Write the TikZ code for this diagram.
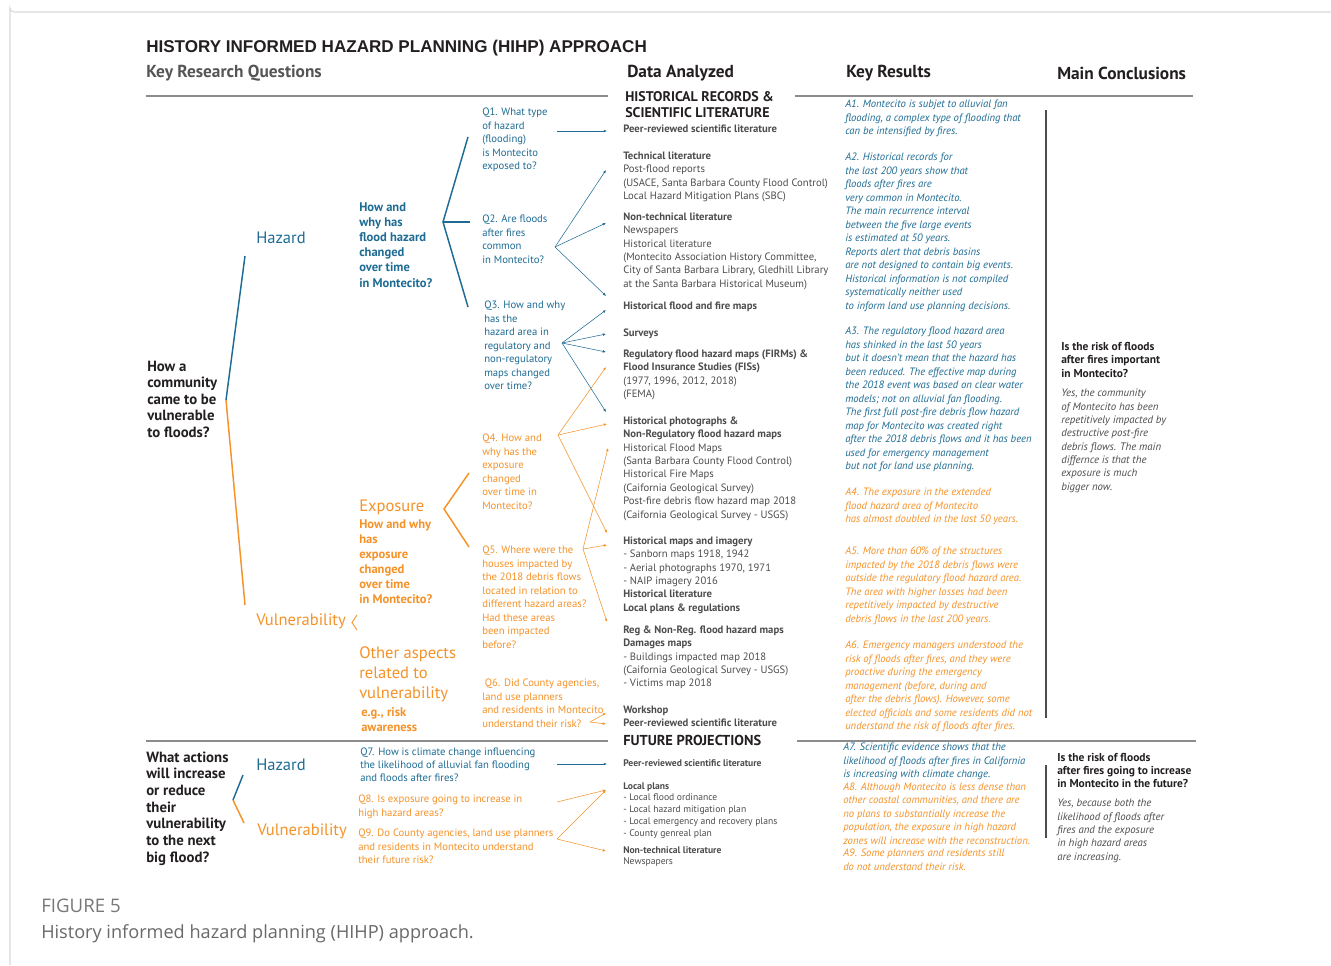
\documentclass[tikz,border=0pt]{standalone}
\usepackage{fontspec}
\setmainfont{PT Sans}
\newfontfamily\titlefont{Liberation Sans}
\newfontfamily\capfont{Open Sans}
\usetikzlibrary{arrows.meta}
\definecolor{HazClr}{RGB}{30,108,148}
\definecolor{VulClr}{RGB}{245,146,40}
\definecolor{TxtClr}{RGB}{35,31,32}
\definecolor{DatClr}{RGB}{77,77,77}
\definecolor{HeadClr}{RGB}{85,85,85}
\definecolor{RuleClr}{RGB}{140,140,140}
\definecolor{FrameClr}{RGB}{218,218,218}
\definecolor{CapClr}{RGB}{105,105,105}

\begin{document}
\begin{tikzpicture}[x=0.75pt,y=-0.75pt,
  txt/.style={anchor=north west,inner sep=0pt,align=left},
  dat/.style={txt,text=DatClr,font=\fontsize{8}{10.05}\selectfont},
  datsm/.style={txt,text=DatClr,font=\fontsize{7.2}{8.9}\selectfont},
  qhaz/.style={txt,text=HazClr,font=\fontsize{8}{10.1}\selectfont},
  qvul/.style={qhaz,text=VulClr},
  ahaz/.style={txt,text=HazClr,font=\fontsize{8}{10.1}\selectfont\itshape},
  avul/.style={ahaz,text=VulClr},
  conq/.style={txt,text=TxtClr,font=\fontsize{8.6}{10.1}\selectfont\bfseries},
  cona/.style={txt,text=DatClr,font=\fontsize{8.1}{10}\selectfont\itshape},
  colhead/.style={txt,text=TxtClr,font=\fontsize{13}{15}\selectfont\bfseries},
  bighaz/.style={txt,text=HazClr,font=\fontsize{12.4}{15}\selectfont},
  bigvul/.style={bighaz,text=VulClr},
  subhaz/.style={txt,text=HazClr,font=\fontsize{9.4}{11.4}\selectfont\bfseries},
  subvul/.style={subhaz,text=VulClr,font=\fontsize{9.4}{11.25}\selectfont\bfseries},
  rootq/.style={txt,text=TxtClr,font=\fontsize{11.1}{12.45}\selectfont\bfseries},
  HazLine/.style={draw=HazClr,line width=1.1pt},
  VulLine/.style={draw=VulClr,line width=1.1pt},
  HazArr/.style={draw=HazClr,line width=0.4pt,-{Latex[length=2.4pt,width=2pt]}},
  VulArr/.style={draw=VulClr,line width=0.4pt,-{Latex[length=2.4pt,width=2pt]}},
  RuleLine/.style={draw=RuleClr,line width=0.8pt},
  ColSep/.style={draw=TxtClr!80,line width=0.9pt}]

\fill[white] (0,0) rectangle (1331,965);
\useasboundingbox (0,0) rectangle (1331,965);
\draw[FrameClr,line width=0.8pt] (1331,12) -- (14,12) arc (90:180:4) -- (10,965);

% title and column heads
\node[txt,text=TxtClr,font=\titlefont\fontsize{12.8}{14}\selectfont\bfseries] (title) at (146,39.5) {HISTORY INFORMED HAZARD PLANNING (HIHP) APPROACH};
\node[colhead,text=HeadClr] (hQuest) at (146,65) {Key Research Questions};
\node[colhead] (hData) at (627,65) {Data Analyzed};
\node[colhead] (hRes) at (846,65) {Key Results};
\node[colhead] (hConc) at (1057,67) {Main Conclusions};

\draw[RuleLine] (146,96) -- (608,96);
\draw[RuleLine] (795,96) -- (1193,96);
\draw[RuleLine] (146,741) -- (608,741);
\draw[RuleLine] (797,741) -- (1196,741);
\draw[ColSep] (1046,110) -- (1046,718);
\draw[ColSep] (1046,765) -- (1046,838);

% research questions, past
\node[rootq] (rootPast) at (147,360.5) {How a\\community\\came to be\\vulnerable\\to floods?};
\node[bighaz] (hazPast) at (256,232) {Hazard};
\node[bigvul] (vulPast) at (256,614) {Vulnerability};
\node[subhaz] (hazWhy) at (359,202) {How and\\why has\\flood hazard\\changed\\over time\\in Montecito?};
\node[bigvul] (expo) at (359,500) {Exposure};
\node[subvul] (expoWhy) at (359,519) {How and why\\has\\exposure\\changed\\over time\\in Montecito?};
\node[bigvul] (other) at (359,646) {Other aspects\\related to\\vulnerability};
\node[subvul] (otherEg) at (361,707) {e.g., risk\\awareness};

\coordinate (rootTip) at (226,400);
\draw[HazLine] (245,256) -- (rootTip);
\draw[VulLine] (rootTip) -- (245,605);
\draw[HazLine] (468,137) -- (443,222) -- (468,307);
\draw[HazLine] (443,222) -- (470,222);
\draw[VulLine] (469,473) -- (444,509) -- (469,547);
\draw[VulClr,line width=0.7pt] (357,615) -- (352,622.5) -- (357,630);

\node[qhaz] (q1) at (482,108) {Q1. What type\\of hazard\\(flooding)\\is Montecito\\exposed to?};
\node[qhaz] (q2) at (482,215) {Q2. Are floods\\after fires\\common\\in Montecito?};
\node[qhaz] (q3) at (484,301) {Q3. How and why\\has the\\hazard area in\\regulatory and\\non-regulatory\\maps changed\\over time?};
\node[qvul] (q4) at (482,434) {Q4. How and\\why has the\\exposure\\changed\\over time in\\Montecito?};
\node[qvul] (q5) at (482,546) {Q5. Where were the\\houses impacted by\\the 2018 debris flows\\located in relation to\\different hazard areas?\\Had these areas\\been impacted\\before?};
\node[qvul] (q6) at (482,679) {\hspace{2pt}Q6. Did County agencies,\\land use planners\\and residents in Montecito\\understand their risk?};

% research questions, future
\node[rootq,font=\fontsize{11.1}{12.5}\selectfont\bfseries] (rootFut) at (146,751.5) {What actions\\will increase\\or reduce\\their\\vulnerability\\to the next\\big flood?};
\node[bighaz] (hazFut) at (256,759) {Hazard};
\node[bigvul] (vulFut) at (257,824) {Vulnerability};
\coordinate (futTip) at (233,800);
\draw[HazLine] (243,775) -- (futTip);
\draw[VulLine] (futTip) -- (244,823);
\node[qhaz,font=\fontsize{8}{9.75}\selectfont] (q7) at (360,748) {Q7. How is climate change influencing\\the likelihood of alluvial fan flooding\\and floods after fires?};
\node[qvul] (q8) at (358,795) {Q8. Is exposure going to increase in\\high hazard areas?};
\node[qvul] (q9) at (358,829) {Q9. Do County agencies, land use planners\\and residents in Montecito understand\\their future risk?};

% data analyzed
\node[txt,text=TxtClr,font=\fontsize{10.5}{12}\selectfont\bfseries] (dHist) at (625,91) {HISTORICAL RECORDS \&\\SCIENTIFIC LITERATURE};
\node[dat] (dPeer) at (623,124.5) {\textbf{Peer-reviewed scientific literature}};
\node[dat] (dTech) at (623,151.5) {\textbf{Technical literature}\\Post-flood reports\\(USACE, Santa Barbara County Flood Control)\\Local Hazard Mitigation Plans (SBC)};
\node[dat] (dNonTech) at (623,212.5) {\textbf{Non-technical literature}\\Newspapers\\Historical literature\\(Montecito Association History Committee,\\City of Santa Barbara Library, Gledhill Library\\at the Santa Barbara Historical Museum)};
\node[dat] (dMaps) at (623,301.5) {\textbf{Historical flood and fire maps}};
\node[dat] (dSurv) at (623,328.5) {\textbf{Surveys}};
\node[dat] (dReg) at (623,349.5) {\textbf{Regulatory flood hazard maps (FIRMs) \&}\\\textbf{Flood Insurance Studies (FISs)}\\(1977, 1996, 2012, 2018)\\(FEMA)};
\node[dat] (dPhoto) at (623,416.5) {\textbf{Historical photographs \&}\\\textbf{Non-Regulatory flood hazard maps}\\Historical Flood Maps\\(Santa Barbara County Flood Control)\\Historical Fire Maps\\(Caifornia Geological Survey)\\Post-fire debris flow hazard map 2018\\(Caifornia Geological Survey - USGS)};
\node[dat] (dImg) at (623,536.5) {\textbf{Historical maps and imagery}\\- Sanborn maps 1918, 1942\\- Aerial photographs 1970, 1971\\- NAIP imagery 2016\\\textbf{Historical literature}\\\textbf{Local plans \& regulations}};
\node[dat] (dDam) at (623,625.5) {\textbf{Reg \& Non-Reg. flood hazard maps}\\\textbf{Damages maps}\\- Buildings impacted map 2018\\(Caifornia Geological Survey - USGS)\\- Victims map 2018};
\node[dat] (dWork) at (623,705.5) {\textbf{Workshop}\\\textbf{Peer-reviewed scientific literature}};
\node[txt,text=TxtClr,font=\fontsize{10.8}{12}\selectfont\bfseries] (dFut) at (623,735) {FUTURE PROJECTIONS};
\node[datsm] (dFutPeer) at (623,759) {\textbf{Peer-reviewed scientific literature}};
\node[datsm] (dFutPlan) at (623,782) {\textbf{Local plans}\\- Local flood ordinance\\- Local hazard mitigation plan\\- Local emergency and recovery plans\\- County genreal plan};
\node[datsm] (dFutNews) at (623,846) {\textbf{Non-technical literature}\\Newspapers};

% arrow ends
\coordinate (Q1o) at (557,131);  \coordinate (tPeer) at (607,131);
\coordinate (Q2o) at (555,247);
\coordinate (tTech) at (606,170); \coordinate (tNonTech) at (606,223); \coordinate (tMaps) at (606,296);
\coordinate (Q3o) at (562,343);
\coordinate (tMapsB) at (606,310); \coordinate (tSurv) at (606,334); \coordinate (tReg) at (606,352); \coordinate (tPhoto) at (606,412);
\coordinate (Q4o) at (558,435);
\coordinate (tFIS) at (606,367); \coordinate (tPhotoB) at (607,424); \coordinate (tImg) at (607,533);
\coordinate (Q5o) at (583,549);
\coordinate (tFlood) at (608,448); \coordinate (tImgB) at (607,545); \coordinate (tDam) at (607,622);
\coordinate (Q6o) at (590,722);
\coordinate (tWork) at (606,713); \coordinate (tWorkB) at (606,724);
\coordinate (Q7o) at (557,764); \coordinate (tFutPeer) at (607,764);
\coordinate (Q8o) at (557,802); \coordinate (tPlan) at (606,790);
\coordinate (Q9o) at (557,839); \coordinate (tNews) at (606,851);

\draw[HazArr] (Q1o) -- (tPeer);
\foreach \t in {tTech,tNonTech,tMaps} \draw[HazArr] (Q2o) -- (\t);
\foreach \t in {tMapsB,tSurv,tReg,tPhoto} \draw[HazArr] (Q3o) -- (\t);
\foreach \t in {tFIS,tPhotoB,tImg} \draw[VulArr] (Q4o) -- (\t);
\foreach \t in {tFlood,tImgB,tDam} \draw[VulArr] (Q5o) -- (\t);
\foreach \t in {tWork,tWorkB} \draw[VulArr] (Q6o) -- (\t);
\draw[HazArr] (Q7o) -- (tFutPeer);
\draw[VulArr] (Q8o) -- (tPlan);
\foreach \t in {tPlan,tNews} \draw[VulArr] (Q9o) -- (\t);

% key results
\node[ahaz] (a1) at (845,100) {A1. Montecito is subjet to  alluvial fan\\flooding,  a complex type of flooding that\\can be intensified  by fires.};
\node[ahaz] (a2) at (845,153) {A2. Historical records for\\the last 200 years show that\\floods after fires are\\very common in Montecito.\\The main recurrence interval\\between the five large events\\is estimated at 50 years.\\Reports alert that debris basins\\are not designed to contain big events.\\Historical information is not compiled\\systematically neither used\\to inform land use planning decisions.};
\node[ahaz] (a3) at (845,327) {A3. The regulatory flood hazard area\\has shinked in the last 50 years\\but it doesn’t mean that the hazard has\\been reduced. The effective map during\\the 2018 event was based on clear water\\models; not on alluvial fan flooding.\\The first full post-fire debris flow hazard\\map for Montecito was created right\\after the 2018 debris flows and it has been\\used for emergency management\\but not for land use planning.};
\node[avul] (a4) at (845,488) {A4. The exposure in the extended\\flood hazard area of Montecito\\has almost doubled in the last 50 years.};
\node[avul] (a5) at (845,547) {A5. More than 60\% of the structures\\impacted by the 2018 debris flows were\\outside the regulatory flood hazard area.\\The area with higher losses had been\\repetitively impacted by destructive\\debris flows in the last 200 years.};
\node[avul] (a6) at (845,641) {A6. Emergency managers understood the\\risk of floods after fires, and they were\\proactive during the emergency\\management (before, during and\\after the debris flows). However,  some\\elected officials and some residents did not\\understand the risk of floods after fires.};
\node[ahaz] (a7) at (843,743) {A7. Scientific evidence shows that the\\likelihood of floods after fires in California\\is increasing with climate change.};
\node[avul] (a8) at (843,782.5) {A8. Although Montecito is less dense than\\other coastal communities, and there are\\no plans to substantially increase the\\population, the exposure in high hazard\\zones will increase with the reconstruction.};
\node[avul] (a9) at (843,849) {A9. Some planners and residents still\\do not understand their risk.};

% main conclusions
\node[conq] (c1) at (1061,342) {Is the risk of floods\\after fires important\\in Montecito?};
\node[cona] (c1ans) at (1061,389) {Yes, the community\\of Montecito has been\\repetitively impacted by\\destructive post-fire\\debris flows. The main\\differnce is that the\\exposure is much\\bigger now.};
\node[conq,font=\fontsize{8.6}{9.75}\selectfont\bfseries] (c2) at (1057,753) {Is the risk of floods\\after fires going to increase\\in Montecito in the future?};
\node[cona] (c2ans) at (1057,799) {Yes, because both the\\likelihood of floods after\\fires and the exposure\\in high hazard areas\\are increasing.};

% caption
\node[txt,text=CapClr!90,font=\capfont\fontsize{14}{16}\selectfont] (figNo) at (41,899) {FIGURE 5};
\node[txt,text=CapClr,font=\capfont\fontsize{13.6}{16}\selectfont] (figCap) at (41,924) {History informed hazard planning (HIHP) approach.};
\end{tikzpicture}
\end{document}
